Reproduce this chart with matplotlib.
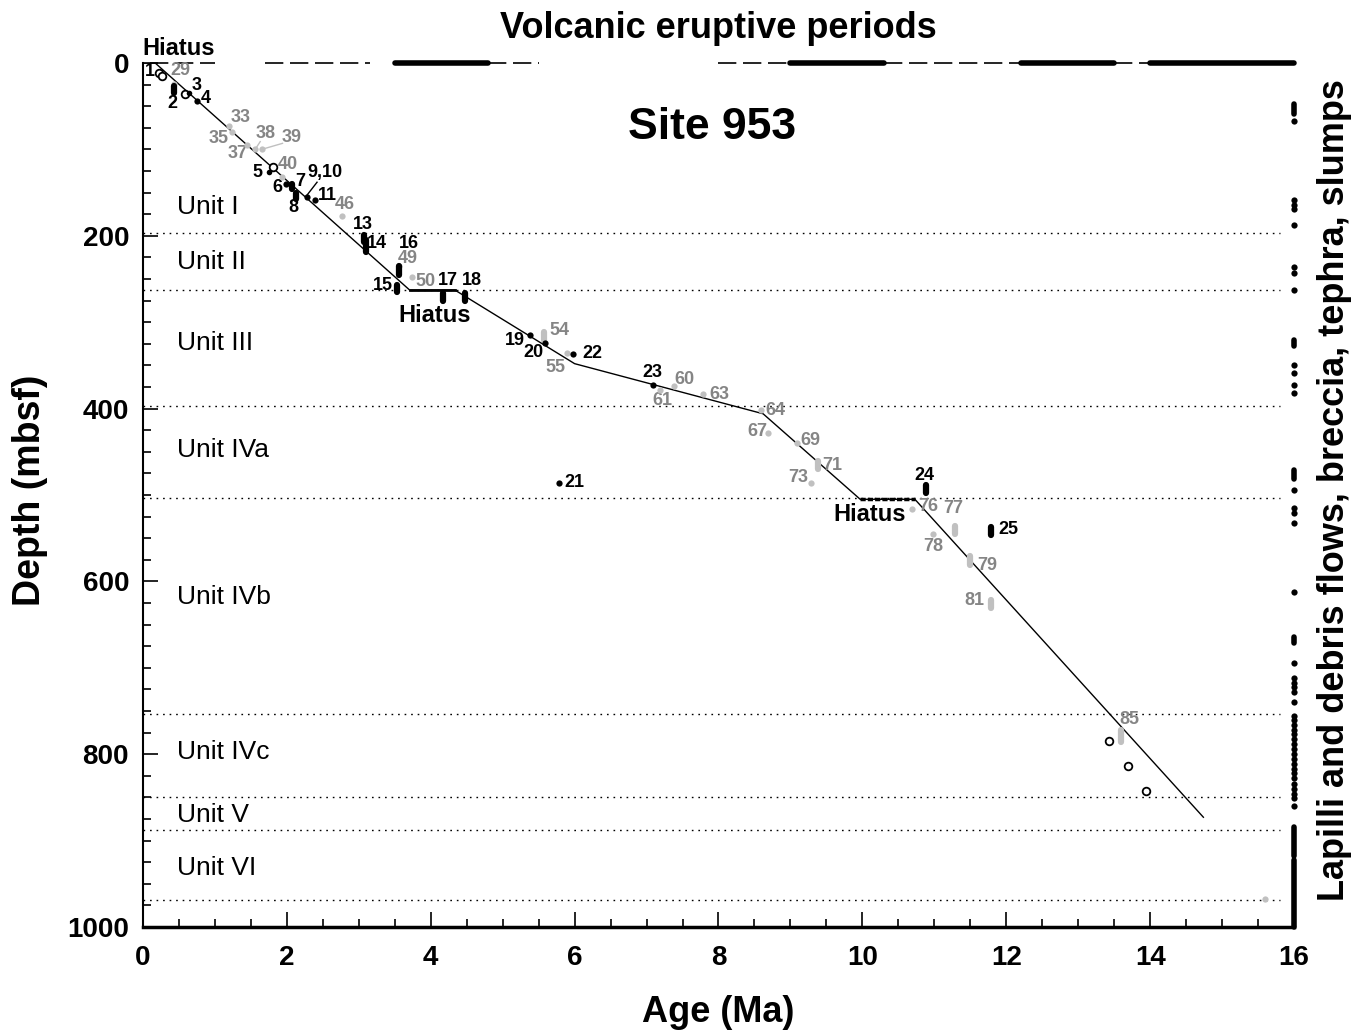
import numpy as np
import matplotlib
matplotlib.use('Agg')
import matplotlib.pyplot as plt
from matplotlib.ticker import MultipleLocator

plt.rcParams['font.family'] = ['Liberation Sans', 'DejaVu Sans']

# age-depth model line (Ma, mbsf)
line_age = [0.0, 0.17, 3.71, 4.34, 6.0, 8.62, 9.97, 10.73, 14.74]
line_depth = [0, 0, 263, 263, 348, 406, 505, 505, 873]

# black datums: label, age, top depth, bottom depth
blk_lab = ['2', '4', '6', '7', '8', '9,10', '11', '13', '14', '16', '15', '17', '18',
           '19', '20', '21', '22', '23', '24', '25']
blk_age = [0.43, 0.75, 1.99, 2.07, 2.13, 2.28, 2.39, 3.07, 3.10, 3.56, 3.53, 4.17, 4.48,
           5.38, 5.59, 5.78, 5.98, 7.09, 10.88, 11.79]
blk_top = [27, 44, 140, 140, 150, 155, 158, 199, 205, 235, 257, 266, 266,
           315, 324, 486, 337, 373, 488, 537]
blk_bot = [35, 44, 140, 146, 157, 155, 158, 207, 219, 245, 265, 275, 275,
           315, 324, 486, 337, 373, 498, 546]
blk_off = [(-1, -14), (9, 3), (-9, -4), (8, 5), (-3, -12), (18, 24), (12, 4), (-1, 14),
           (11, 3), (10, 27), (-14, 3), (5, 16), (7, 16), (-15, -5), (-12, -10), (16, 0),
           (19, 1), (-1, 13), (-1, 13), (17, 1)]

# grey datums
gry_lab = ['29', '33', '35', '37', '38', '39', '40', '46', '49', '50', '54', '55', '60',
           '61', '63', '64', '67', '69', '71', '73', '76', '77', '78', '79', '81', '85', '']
gry_age = [0.43, 1.20, 1.24, 1.45, 1.56, 1.65, 1.93, 2.77, 3.56, 3.74, 5.57, 5.89, 7.38,
           7.19, 7.78, 8.59, 8.69, 9.09, 9.38, 9.29, 10.69, 11.29, 10.98, 11.50, 11.79, 13.60, 15.60]
gry_top = [24, 73, 80, 95, 100, 100, 132, 177, 235, 248, 311, 336, 374,
           378, 383, 402, 428, 440, 461, 486, 516, 536, 545, 571, 621, 772, 968]
gry_bot = [24, 73, 80, 95, 100, 100, 132, 177, 235, 248, 321, 336, 374,
           378, 383, 402, 428, 440, 470, 486, 516, 545, 545, 581, 631, 786, 968]
gry_off = [(7, 13), (11, 9), (-14, -6), (-10, -8), (10, 16), (30, 12), (6, 13), (3, 11),
           (9, 8), (13, -4), (16, 6), (-11, -14), (11, 7), (2, -11), (17, -1), (14, 0),
           (-11, 1), (13, 3), (14, 0), (-13, 5), (16, 2), (-2, 21), (0, -13), (17, -5),
           (-17, 3), (8, 17), (0, 0)]

# open circles
circ_age = [0.22, 0.26, 0.58, 1.81, 13.43, 13.69, 13.94]
circ_depth = [12, 15, 36, 120, 785, 814, 843]
# small black dots next to circles 3 and 5
extra_age = [0.64, 1.75]
extra_depth = [35, 126]

# volcanic eruptive periods (Ma)
dashed_periods = [(0.1, 1.0), (1.7, 3.15), (4.8, 5.5), (8.0, 9.0), (10.3, 12.2), (13.5, 14.0)]
strong_periods = [(3.5, 4.8), (9.0, 10.3), (12.2, 13.5), (14.0, 16.0)]

# lithologic units
unit_names = ['Unit I', 'Unit II', 'Unit III', 'Unit IVa', 'Unit IVb', 'Unit IVc', 'Unit V', 'Unit VI']
unit_label_depth = [167, 230, 324, 448, 618, 797, 870, 932]
unit_bounds = [197, 263, 397, 503, 753, 850, 888, 969]

# lapilli, debris flows, breccia, tephra, slumps (mbsf)
lap_dots = [67, 159, 164, 169, 188, 236, 243, 263, 350, 359, 373, 382, 494, 515, 521, 532,
            612, 695, 712, 718, 722, 728, 740, 756, 761, 766, 772, 777, 783, 788, 794, 800,
            806, 811, 817, 822, 828, 834, 840, 846, 851, 860]
lap_bars = [(47, 59), (321, 327), (471, 481), (664, 671), (884, 918), (922, 1000)]

fig = plt.figure(figsize=(13.6, 10.31), dpi=100)
ax = fig.add_axes([0.1051, 0.1009, 0.8464, 0.838])
ax.set_xlim(0, 16)
ax.set_ylim(1000, 0)

grey_m = '#c0c0c0'
grey_t = '#858585'

# unit boundaries
for d in unit_bounds:
    ax.plot([0, 15.8], [d, d], color='black', lw=1, linestyle=(0, (1.2, 3.5)))
for name, d in zip(unit_names, unit_label_depth):
    ax.text(0.47, d, name, fontsize=19, ha='left', va='center')

# age model
ax.plot(line_age, line_depth, color='black', lw=1)
ax.plot(line_age[2:4], line_depth[2:4], color='black', lw=2)
ax.plot(line_age[6:8], line_depth[6:8], color='black', lw=2.5, linestyle=(0, (1.5, 0.6)))

def draw_datums(labs, ages, tops, bots, offs, mcol, tcol):
    for lab, a, t, b, off in zip(labs, ages, tops, bots, offs):
        if t == b:
            ax.plot(a, t, 'o', color=mcol, ms=4.5, mew=0, zorder=4)
        else:
            ax.plot([a, a], [t, b], color=mcol, lw=4.5, solid_capstyle='round', zorder=4)
        if lab:
            ax.annotate(lab, (a, (t + b) / 2), xytext=off, textcoords='offset pixels',
                        ha='center', va='center', fontsize=13, fontweight='bold', color=tcol)

draw_datums(gry_lab, gry_age, gry_top, gry_bot, gry_off, grey_m, grey_t)
draw_datums(blk_lab, blk_age, blk_top, blk_bot, blk_off, 'black', 'black')

ax.plot(circ_age, circ_depth, 'o', mfc='white', mec='black', ms=5.5, mew=1.3, zorder=5)
ax.plot(extra_age, extra_depth, 'o', color='black', ms=4, mew=0, zorder=5)
ax.annotate('1', (0.22, 12), xytext=(-9, 2), textcoords='offset pixels',
            ha='center', va='center', fontsize=13, fontweight='bold')
ax.annotate('3', (0.58, 36), xytext=(12, 9), textcoords='offset pixels',
            ha='center', va='center', fontsize=13, fontweight='bold')
ax.annotate('5', (1.75, 126), xytext=(-11, -1), textcoords='offset pixels',
            ha='center', va='center', fontsize=13, fontweight='bold')

# leader lines
ax.plot([2.28, 2.42], [153, 138], color='black', lw=1)
ax.plot([1.56, 1.63], [100, 91], color=grey_m, lw=1)
ax.plot([1.65, 1.94], [100, 93], color=grey_m, lw=1)

# eruptive periods along top
for a, b in dashed_periods:
    ax.plot([a, b], [0, 0], color='black', lw=1.2, linestyle=(0, (11, 4)), clip_on=False)
for a, b in strong_periods:
    ax.plot([a, b], [0, 0], color='black', lw=4, solid_capstyle='round', clip_on=False)

# lapilli column
ax.plot([16] * len(lap_dots), lap_dots, 'o', color='black', ms=4.5, mew=0, clip_on=False, zorder=6)
for t, b in lap_bars:
    ax.plot([16, 16], [t, b], color='black', lw=4, solid_capstyle='round', clip_on=False, zorder=6)

ax.text(0.49, -17, 'Hiatus', fontsize=17, fontweight='bold', ha='center', va='center', clip_on=False)
ax.text(4.06, 292, 'Hiatus', fontsize=17, fontweight='bold', ha='center', va='center')
ax.text(10.1, 523, 'Hiatus', fontsize=17, fontweight='bold', ha='center', va='center')
ax.text(7.91, 75, 'Site 953', fontsize=32, fontweight='bold', ha='center', va='center')

# axes styling
for s in ['top', 'right']:
    ax.spines[s].set_visible(False)
ax.spines['left'].set_linewidth(1.5)
ax.spines['bottom'].set_linewidth(2.5)
ax.xaxis.set_major_locator(MultipleLocator(2))
ax.xaxis.set_minor_locator(MultipleLocator(0.5))
ax.yaxis.set_major_locator(MultipleLocator(200))
ax.yaxis.set_minor_locator(MultipleLocator(25))
ax.tick_params(which='both', direction='in', width=1.2)
ax.tick_params(which='major', length=11)
ax.tick_params(which='minor', length=6)
ax.tick_params(axis='x', pad=13)
ax.tick_params(axis='y', pad=10)
for lab in ax.get_xticklabels() + ax.get_yticklabels():
    lab.set_fontweight('bold')
    lab.set_fontsize(20)

fig.text(718 / 1360, 1 - 28 / 1031, 'Volcanic eruptive periods', fontsize=26, fontweight='bold',
         ha='center', va='center')
fig.text(718 / 1360, 1 - 1012 / 1031, 'Age (Ma)', fontsize=26, fontweight='bold',
         ha='center', va='center')
fig.text(30 / 1360, 1 - 490 / 1031, 'Depth (mbsf)', fontsize=27, fontweight='bold',
         ha='center', va='center', rotation=90)
fig.text(1335 / 1360, 1 - 490 / 1031, 'Lapilli and debris flows, breccia, tephra, slumps',
         fontsize=26, fontweight='bold', ha='center', va='center', rotation=90)

fig.savefig('out.png', dpi=100)
